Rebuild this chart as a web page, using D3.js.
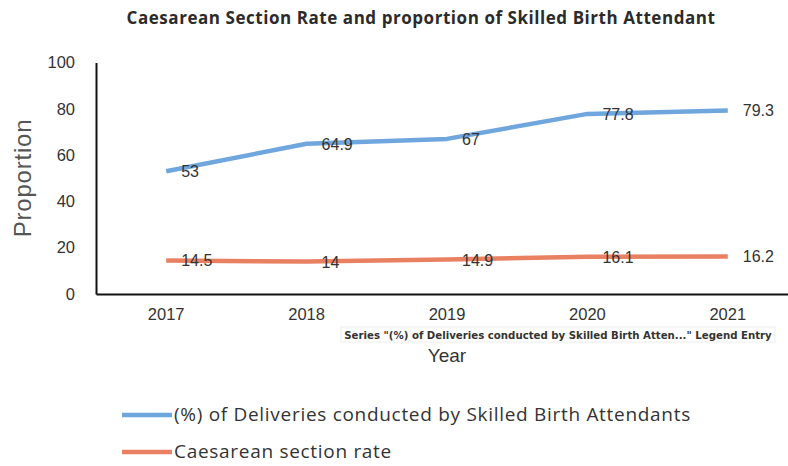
<!DOCTYPE html>
<html>
<head>
<meta charset="utf-8">
<script src="https://cdn.jsdelivr.net/npm/d3@7/dist/d3.min.js"></script>
<style>
  html, body { margin: 0; padding: 0; background: #fff; }
  svg { display: block; }
</style>
</head>
<body>
<svg id="chart" width="788" height="466"></svg>
<script>
// Data
const years = ["2017", "2018", "2019", "2020", "2021"];
const skilledBirth = [53, 64.9, 67, 77.8, 79.3];
const caesareanRate = [14.5, 14, 14.9, 16.1, 16.2];
const yTicks = [0, 20, 40, 60, 80, 100];
const seriesNames = ["(%) of Deliveries conducted by Skilled Birth Attendants", "Caesarean section rate"];
const seriesColors = ["#6ea6dd", "#ea8062"];

const svg = d3.select("#chart");
const plot = { left: 96, right: 798, top: 62.5, bottom: 294 };

const x = d3.scaleBand().domain(years).range([plot.left, plot.right]);
const xc = d => x(d) + x.bandwidth() / 2;
const y = d3.scaleLinear().domain([0, 100]).range([plot.bottom, plot.top]);

// Title
svg.append("text")
  .attr("x", 421).attr("y", 24)
  .attr("text-anchor", "middle")
  .attr("font-family", "'Open Sans', sans-serif")
  .attr("font-weight", 700)
  .attr("font-size", 17)
  .attr("letter-spacing", 0.55)
  .attr("fill", "#2b2b2b")
  .text("Caesarean Section Rate and proportion of Skilled Birth Attendant");

// Y axis
const yAxis = d3.axisLeft(y).tickValues(yTicks).tickSize(0).tickPadding(21);
const gy = svg.append("g").attr("transform", `translate(${plot.left},0)`).call(yAxis);
gy.select(".domain").attr("stroke", "#111").attr("stroke-width", 2);
gy.selectAll("text")
  .attr("font-family", "'Liberation Sans', sans-serif")
  .attr("font-size", 16.5)
  .attr("fill", "#333");

// X axis
const xAxis = d3.axisBottom(x).tickSize(0).tickPadding(14);
const gx = svg.append("g").attr("transform", `translate(0,${plot.bottom})`).call(xAxis);
gx.select(".domain").attr("stroke", "#111").attr("stroke-width", 2);
gx.selectAll("text")
  .attr("font-family", "'Liberation Sans', sans-serif")
  .attr("font-size", 16.5)
  .attr("fill", "#333");

// Axis titles
svg.append("text")
  .attr("transform", "translate(31,178) rotate(-90)")
  .attr("text-anchor", "middle")
  .attr("font-family", "'Liberation Sans', sans-serif")
  .attr("font-size", 24)
  .attr("letter-spacing", 0.8)
  .attr("fill", "#555")
  .text("Proportion");

svg.append("text")
  .attr("x", 447).attr("y", 362)
  .attr("text-anchor", "middle")
  .attr("font-family", "'Liberation Sans', sans-serif")
  .attr("font-size", 19)
  .attr("fill", "#333")
  .text("Year");

// Lines
const line = d3.line().x((d, i) => xc(years[i])).y(d => y(d));
[skilledBirth, caesareanRate].forEach((vals, s) => {
  svg.append("path")
    .datum(vals)
    .attr("d", line)
    .attr("fill", "none")
    .attr("stroke", seriesColors[s])
    .attr("stroke-width", 4.5)
    .attr("stroke-linejoin", "round");
});

// Data labels
[skilledBirth, caesareanRate].forEach(vals => {
  svg.append("g").selectAll("text")
    .data(vals)
    .join("text")
    .attr("x", (d, i) => xc(years[i]) + 15)
    .attr("y", d => y(d) + 6)
    .attr("font-family", "'Liberation Sans', sans-serif")
    .attr("font-size", 16)
    .attr("fill", "#333")
    .text(d => d);
});

// Hover tooltip over the plot
const tip = svg.append("g").attr("transform", "translate(341,327)");
tip.append("rect")
  .attr("x", 0).attr("y", 0).attr("width", 434).attr("height", 15)
  .attr("fill", "#fff").attr("stroke", "#e2e2e2").attr("stroke-width", 0.6);
tip.append("text")
  .attr("x", 217).attr("y", 11.5)
  .attr("text-anchor", "middle")
  .attr("font-family", "'DejaVu Sans', sans-serif")
  .attr("font-weight", 700)
  .attr("font-size", 10.2)
  .attr("fill", "#333")
  .text('Series "(%) of Deliveries conducted by Skilled Birth Atten..." Legend Entry');

// Legend
const legend = svg.append("g");
seriesNames.forEach((name, i) => {
  const ly = 415 + i * 37;
  legend.append("line")
    .attr("x1", 122).attr("x2", 172)
    .attr("y1", ly).attr("y2", ly)
    .attr("stroke", seriesColors[i]).attr("stroke-width", 4.5);
  legend.append("text")
    .attr("x", 174).attr("y", ly + 6)
    .attr("font-family", "'Open Sans', sans-serif")
    .attr("font-size", 19)
    .attr("letter-spacing", 0.7)
    .attr("fill", "#333")
    .text(name);
});
</script>
</body>
</html>
